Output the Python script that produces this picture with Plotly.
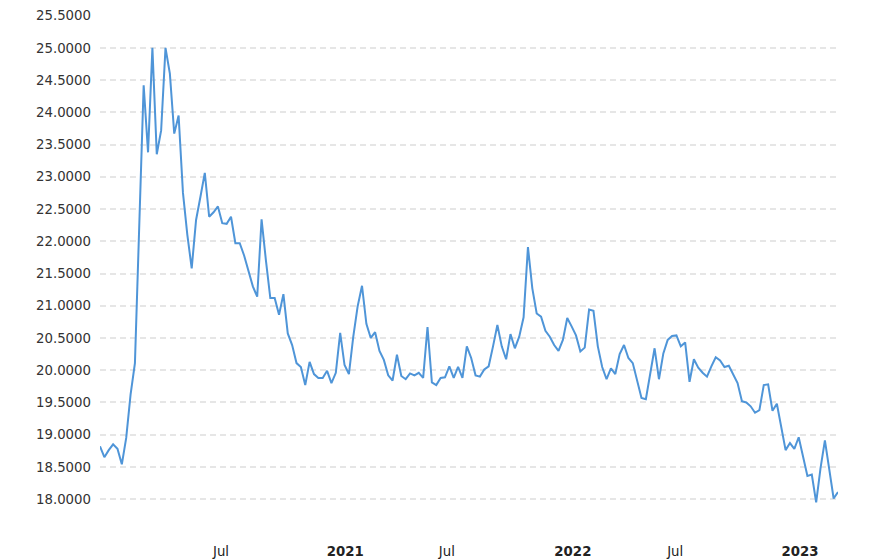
import pandas as pd
import plotly.graph_objects as go

start_date = "2019-12-05"
values = [
    18.82, 18.65, 18.76, 18.85, 18.78, 18.54, 18.95, 19.62, 20.11, 22.20,
    24.42, 23.38, 25.00, 23.35, 23.72, 25.00, 24.60, 23.67, 23.95, 22.75,
    22.10, 21.58, 22.33, 22.69, 23.06, 22.38, 22.45, 22.54, 22.28, 22.27,
    22.38, 21.97, 21.97, 21.78, 21.55, 21.30, 21.14, 22.34, 21.70, 21.12,
    21.12, 20.86, 21.18, 20.57, 20.39, 20.11, 20.05, 19.77, 20.13, 19.94,
    19.88, 19.88, 19.99, 19.80, 19.96, 20.58, 20.08, 19.94, 20.52, 20.99,
    21.31, 20.72, 20.50, 20.59, 20.30, 20.16, 19.92, 19.84, 20.24, 19.91,
    19.86, 19.95, 19.92, 19.96, 19.88, 20.67, 19.81, 19.77, 19.88, 19.89,
    20.06, 19.88, 20.05, 19.88, 20.37, 20.19, 19.92, 19.90, 20.01, 20.06,
    20.37, 20.70, 20.37, 20.17, 20.56, 20.34, 20.52, 20.82, 21.91, 21.27,
    20.88, 20.83, 20.61, 20.52, 20.39, 20.30, 20.47, 20.81, 20.68, 20.54,
    20.29, 20.35, 20.94, 20.92, 20.37, 20.05, 19.86, 20.03, 19.94, 20.25,
    20.39, 20.19, 20.11, 19.85, 19.57, 19.55, 19.95, 20.34, 19.86, 20.26,
    20.47, 20.53, 20.54, 20.37, 20.43, 19.82, 20.17, 20.04, 19.96, 19.90,
    20.06, 20.20, 20.15, 20.05, 20.07, 19.93, 19.80, 19.52, 19.50, 19.44,
    19.34, 19.38, 19.77, 19.78, 19.37, 19.48, 19.12, 18.76, 18.87, 18.78,
    18.96, 18.66, 18.36, 18.38, 17.95, 18.48, 18.91, 18.46, 18.01, 18.11,
]
dates = pd.date_range(start_date, periods=len(values), freq="7D")

x_tick_dates = ["2020-06-16", "2021-01-01", "2021-06-13", "2022-01-01", "2022-06-14", "2022-12-31"]
x_tick_text = ["Jul", "<b>2021</b>", "Jul", "<b>2022</b>", "Jul", "<b>2023</b>"]

y_tick_vals = [17.5 + 0.5 * k for k in range(17)]
y_tick_text = ["" if v == 17.5 else f"{v:.4f}" for v in y_tick_vals]

fig = go.Figure()
fig.add_trace(go.Scatter(
    x=dates, y=values, mode="lines",
    line=dict(color="#4f95d8", width=2),
    hoverinfo="x+y",
))

# page body has an 8px default margin, so the figure is sized to fit the window
fig.update_layout(
    width=880, height=552,
    margin=dict(l=92, r=50, t=7, b=28),
    paper_bgcolor="white", plot_bgcolor="white",
    showlegend=False,
    font=dict(family="DejaVu Sans, Verdana, sans-serif", size=14, color="#333333"),
)
fig.update_xaxes(
    type="date",
    range=[dates[0], dates[-1]],
    tickvals=x_tick_dates, ticktext=x_tick_text,
    showgrid=False, zeroline=False, showline=False,
    ticks="", ticklabelstandoff=10, automargin=False,
    tickfont=dict(size=13.3, color="#222222"),
)
fig.update_yaxes(
    range=[17.49, 25.51],
    tickvals=y_tick_vals, ticktext=y_tick_text,
    showgrid=True, gridcolor="#e6e6e6", gridwidth=2, griddash="6px,4px",
    zeroline=False, showline=False, ticks="",
    ticklabelstandoff=8, automargin=False,
    tickfont=dict(size=13.3, color="#333333"),
)

fig.write_html("out.html")
